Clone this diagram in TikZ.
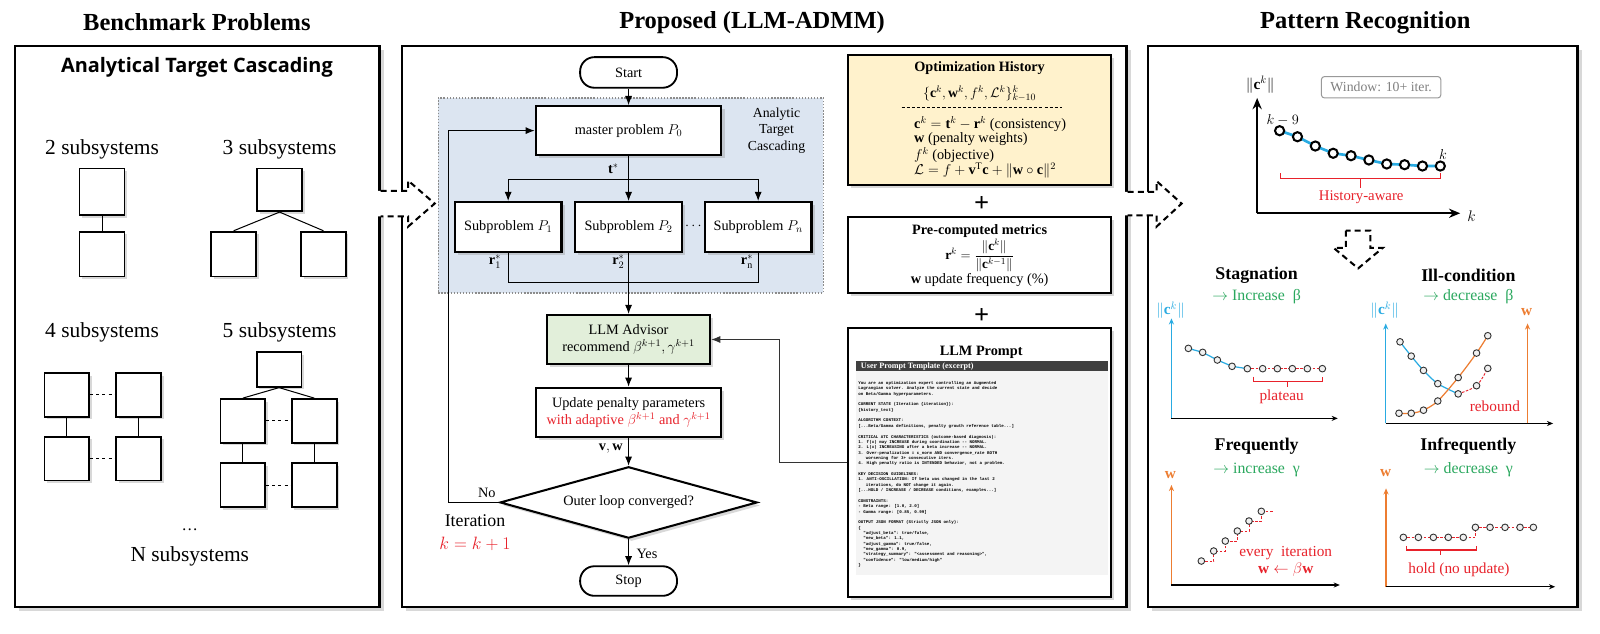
\RequirePackage{fix-cm}
\documentclass[tikz,border=0pt]{standalone}
\usepackage{fontspec}
\setmainfont{Liberation Serif}
\newfontfamily\atcfont{Open Sans}
\newfontfamily\pmono{Liberation Mono}
\usetikzlibrary{arrows.meta,shapes.geometric,shadows,calc}
\definecolor{cy}{HTML}{29ABE2}
\definecolor{orng}{HTML}{ED7D31}
\definecolor{rd}{HTML}{E8222B}
\definecolor{grn}{HTML}{2AA85E}
\definecolor{atcfill}{HTML}{DCE5F1}
\definecolor{atcline}{HTML}{8C8C8C}
\definecolor{advfill}{HTML}{E2EFDA}
\definecolor{histfill}{HTML}{FFF2CC}
\definecolor{hdr}{HTML}{404040}
\definecolor{txtbg}{HTML}{F4F4F4}
\definecolor{wgray}{HTML}{808080}
\newcommand\fsz[2]{\fontsize{#1}{#2}\selectfont}
\tikzset{
  shd/.style={drop shadow={shadow xshift=3pt,shadow yshift=-3pt,opacity=0.3}},
  panel/.style={draw,line width=2.2pt,fill=white,inner sep=0pt,
    drop shadow={shadow xshift=4pt,shadow yshift=-4pt,opacity=0.3}},
  sbox/.style={draw,line width=1.7pt,fill=white,minimum width=44pt,minimum height=43pt,
    drop shadow={shadow xshift=2.5pt,shadow yshift=-2.5pt,opacity=0.3}},
  fbox/.style={draw,line width=2pt,fill=white,align=center,font=\fsz{14}{17},shd},
  term/.style={draw,line width=1.8pt,fill=white,rounded corners=14pt,minimum width=95pt,
    minimum height=30pt,font=\fsz{14}{17}},
  arr/.style={-{Latex[length=9pt,width=7pt]},line width=1pt},
  ln/.style={line width=1pt},
  lbl/.style={font=\fsz{14}{17},inner sep=0pt},
  ttl/.style={font=\fsz{24}{28}\bfseries},
  subl/.style={font=\fsz{21}{24}},
  stit/.style={font=\fsz{17.5}{20}\bfseries},
  gtxt/.style={text=grn,font=\fsz{15.5}{18}},
  rtxt/.style={text=rd,font=\fsz{14.5}{17}},
  bpt/.style={circle,draw=black,line width=2pt,fill=white,inner sep=0pt,minimum size=9pt},
  spt/.style={circle,draw=black!80,line width=0.9pt,fill=black!6,inner sep=0pt,minimum size=6.5pt},
  rdash/.style={rd,line width=0.9pt,dash pattern=on 2.5pt off 1.5pt},
  bigax/.style={-{Stealth[length=11pt,width=9pt]},line width=2pt},
  smax/.style={-{Stealth[length=6pt,width=5pt]},line width=1.3pt},
  hollow/.style={line width=2pt,dash pattern=on 6pt off 4pt},
}
\begin{document}
\begin{tikzpicture}[x=1pt,y=-1pt]
\useasboundingbox (0,0) rectangle (1568,621);
\fill[white] (0,0) rectangle (1568,621);

% ---------------- panels
\node[panel,minimum width=357pt,minimum height=550pt] (panL) at (193.5,320) {};
\node[panel,minimum width=710pt,minimum height=550pt] (panM) at (749,320) {};
\node[panel,minimum width=421pt,minimum height=550pt] (panR) at (1335.5,320) {};
\node[ttl] (tL) at (193,22) {Benchmark Problems};
\node[ttl] (tM) at (737,22) {Proposed (LLM-ADMM)};
\node[ttl] (tR) at (1338,22) {Pattern Recognition};

% hollow dashed arrows between panels
\fill[white] (369,187) -- (400,187) -- (400,177) -- (426,199.5) -- (400,222) -- (400,212) -- (369,212) -- cycle;
\draw[hollow] (373,187) -- (400,187) -- (400,177) -- (426,199.5) -- (400,222) -- (400,212) -- (373,212);
\fill[white] (1101,188) -- (1133.5,188) -- (1133.5,177.5) -- (1158,199.5) -- (1133.5,222) -- (1133.5,211) -- (1101,211) -- cycle;
\draw[hollow] (1105,188) -- (1133.5,188) -- (1133.5,177.5) -- (1158,199.5) -- (1133.5,222) -- (1133.5,211) -- (1105,211);

% ---------------- left panel
\node[font=\atcfont\bfseries\fsz{19.5}{22}] (atc) at (193,66) {Analytical Target Cascading};
\node[subl] (l2) at (100,146) {2 subsystems};
\node[subl] (l3) at (274,146) {3 subsystems};
\node[subl] (l4) at (100,326) {4 subsystems};
\node[subl] (l5) at (274,326) {5 subsystems};
\node[font=\fsz{16}{18}] (ldots) at (186,519) {\ldots};
\node[subl] (lN) at (186,545) {N subsystems};

\node[sbox,minimum height=46pt] (a1) at (100,188) {};
\node[sbox,minimum height=44pt] (a2) at (100,249) {};
\draw[ln] (a1) -- (a2);

\node[sbox,minimum height=42pt] (b0) at (274,186) {};
\node[sbox,minimum height=44pt] (b1) at (229,249) {};
\node[sbox,minimum height=44pt] (b2) at (317,249) {};
\draw[ln] (b0.south) -- (b1.north);
\draw[ln] (b0.south) -- (b2.north);

\node[sbox] (c1) at (65.5,387) {};
\node[sbox] (c2) at (136,387) {};
\node[sbox] (c3) at (65.5,449.5) {};
\node[sbox] (c4) at (136,449.5) {};
\draw[ln] (c1) -- (c3);
\draw[ln] (c2) -- (c4);
\draw[ln,dashed] (c1) -- (c2);
\draw[ln,dashed] (c3) -- (c4);

\node[sbox,minimum height=34pt] (d0) at (273.5,362) {};
\node[sbox] (d1) at (238,412.5) {};
\node[sbox] (d2) at (308,412.5) {};
\node[sbox] (d3) at (238,475.5) {};
\node[sbox] (d4) at (308,475.5) {};
\draw[ln] (d0.south) -- (d1.north);
\draw[ln] (d0.south) -- (d2.north);
\draw[ln] (d1) -- (d3);
\draw[ln] (d2) -- (d4);
\draw[ln,dashed] (d1) -- (d2);
\draw[ln,dashed] (d3) -- (d4);

% ---------------- middle panel: flowchart
\node[fill=atcfill,draw=atcline,line width=1.5pt,dash pattern=on 1.5pt off 1.5pt,
  minimum width=377.3pt,minimum height=191pt] (atcreg) at (618.15,191.5) {};
\node[font=\fsz{13.5}{16},align=center] (atclbl) at (761,128) {Analytic\\Target\\Cascading};
\node[term] (start) at (616,71) {Start};
\node[fbox,minimum width=182pt,minimum height=48pt] (master) at (616,128) {master problem $P_0$};
\node[fbox,minimum width=104.5pt,minimum height=49pt] (p1) at (498,222.5) {Subproblem $P_1$};
\node[fbox,minimum width=104.5pt,minimum height=49pt] (p2) at (616,222.5) {Subproblem $P_2$};
\node[fbox,minimum width=104.5pt,minimum height=49pt] (pn) at (743,222.5) {Subproblem $P_n$};
\node[lbl] (dots) at (679.5,222) {$\cdots$};
\node[lbl] (tstar) at (601,165) {$\mathbf{t}^*$};
\node[lbl] (r1) at (485,256.5) {$\mathbf{r}_1^*$};
\node[lbl] (r2) at (606,256.5) {$\mathbf{r}_2^*$};
\node[lbl] (rn) at (732,256.5) {$\mathbf{r}_{\mathrm{n}}^*$};

\node[fbox,fill=advfill,minimum width=160pt,minimum height=48pt] (adv) at (616,332.7)
  {LLM Advisor\\recommend $\beta^{k+1},\gamma^{k+1}$};
\node[fbox,minimum width=181pt,minimum height=48pt] (upd) at (616,404)
  {Update penalty parameters\\\textcolor{rd}{with adaptive $\beta^{k+1}$ and $\gamma^{k+1}$}};
\node[lbl] (vw) at (598.5,440) {$\mathbf{v},\mathbf{w}$};
\node[draw,diamond,aspect=3.6,line width=2pt,fill=white,minimum width=252pt,minimum height=70pt,
  font=\fsz{14}{17},shd] (dia) at (616,492.4) {Outer loop converged?};
\node[term,minimum height=29pt] (stop) at (616,569.4) {Stop};
\node[lbl] (no) at (477,483) {No};
\node[lbl] (yes) at (634,543) {Yes};
\node[font=\fsz{17.5}{20}] (iter) at (465.5,510) {Iteration};
\node[text=rd,font=\fsz{17.5}{20}] (kupd) at (465.5,533) {$k=k+1$};

\coordinate (br) at (616,175.6);
\coordinate (cl) at (616,277);
\coordinate (lx) at (440,300);
\coordinate (fx) at (763.7,400);
\draw[arr] (start) -- (master);
\draw[arr] (master) -- (p2);
\draw[arr] (br) -| (p1.north);
\draw[arr] (br) -| (pn.north);
\draw[ln] (p1.south) |- (cl) -| (pn.south);
\draw[arr] (p2) -- (adv);
\draw[arr] (adv) -- (upd);
\draw[arr] (upd) -- (dia);
\draw[arr] (dia) -- (stop);
\draw[arr] (dia.west) -- (dia.west -| lx) -- (master.west -| lx) -- (master.west);

% ---------------- middle panel: right column
\node[draw,line width=2pt,fill=histfill,minimum width=257.6pt,minimum height=127.4pt,shd] (hist) at (960.2,117.6) {};
\node[font=\fsz{14}{17}\bfseries,inner sep=0pt] (histt) at (960,67) {Optimization History};
\node[font=\fsz{13.5}{16},inner sep=0pt] (hists) at (960,91.5) {$\{\mathbf{c}^k,\mathbf{w}^k,f^k,\mathcal{L}^k\}_{k-10}^{k}$};
\coordinate (hd1) at (883.6,105);
\coordinate (hd2) at (1040.4,105);
\draw[line width=0.8pt,dash pattern=on 3pt off 2pt] (hd1) -- (hd2);
\node[lbl,anchor=west] (hl1) at (895.7,121.5) {$\mathbf{c}^k=\mathbf{t}^k-\mathbf{r}^k$ (consistency)};
\node[lbl,anchor=west] (hl2) at (895.7,136.5) {$\mathbf{w}$ (penalty weights)};
\node[lbl,anchor=west] (hl3) at (895.7,151.9) {$f^k$ (objective)};
\node[lbl,anchor=west] (hl4) at (895.7,167.3) {$\mathcal{L}=f+\mathbf{v}^{\mathrm{T}}\mathbf{c}+\|\mathbf{w}\circ\mathbf{c}\|^2$};

\node[font=\fsz{26}{26}\bfseries] (plus1) at (962,200) {+};
\node[draw,line width=2pt,fill=white,minimum width=257.6pt,minimum height=75.2pt,shd] (met) at (960.2,249.9) {};
\node[font=\fsz{14}{17}\bfseries,inner sep=0pt] (mett) at (960,226.5) {Pre-computed metrics};
\node[font=\fsz{13}{15},inner sep=0pt] (metf) at (960,250.5) {$\mathbf{r}^k=\displaystyle\frac{\|\mathbf{c}^k\|}{\|\mathbf{c}^{k-1}\|}$};
\node[lbl] (metw) at (960,274) {$\mathbf{w}$ update frequency (\%)};
\node[font=\fsz{26}{26}\bfseries] (plus2) at (962,310) {+};

\node[draw,line width=2pt,fill=white,minimum width=257.6pt,minimum height=264pt,shd] (prompt) at (960.2,453) {};
\node[font=\fsz{14}{17}\bfseries,inner sep=0pt] (promptt) at (961.6,345) {LLM Prompt};
\node[fill=txtbg,minimum width=247pt,minimum height=200pt,anchor=north west,inner sep=0pt] (ptxt) at (839,363.6) {};
\node[fill=hdr,minimum width=247pt,minimum height=9.6pt,anchor=north west,inner sep=0pt] (phdr) at (839,354) {};
\node[anchor=west,text=white,font=\fsz{8}{9}\bfseries,inner sep=0pt] (phdrt) at (843.5,358.8) {User Prompt Template (excerpt)};
\node[anchor=north west,align=left,inner sep=0pt,font=\pmono\bfseries\fsz{4.1}{5.25}] (pbody) at (841,373.6) {%
You are an optimization expert controlling an Augmented\\
Lagrangian solver. Analyze the current state and decide\\
on Beta/Gamma hyperparameters.\\[5.25pt]
CURRENT STATE (Iteration \{iteration\}):\\
\{history\_text\}\\[5.25pt]
ALGORITHM CONTEXT:\\
{[}...Beta/Gamma definitions, penalty growth reference table...]\\[5.25pt]
CRITICAL ATC CHARACTERISTICS (outcome-based diagnosis):\\
1. f(x) may INCREASE during coordination -{}- NORMAL.\\
2. L(x) INCREASING after a beta increase -{}- NORMAL.\\
3. Over-penalization = c\_norm AND convergence\_rate BOTH\\
\phantom{xxx}worsening for 3+ consecutive iters.\\
4. High penalty ratio is INTENDED behavior, not a problem.\\[5.25pt]
KEY DECISION GUIDELINES:\\
1. ANTI-OSCILLATION: If beta was changed in the last 2\\
\phantom{xxx}iterations, do NOT change it again.\\
{[}...HOLD / INCREASE / DECREASE conditions, examples...]\\[5.25pt]
CONSTRAINTS:\\
- Beta range: {[}1.0, 2.0]\\
- Gamma range: {[}0.85, 0.99]\\[5.25pt]
OUTPUT JSON FORMAT (Strictly JSON only):\\
\{\\
\phantom{xx}"adjust\_beta": true/false,\\
\phantom{xx}"new\_beta": 1.1,\\
\phantom{xx}"adjust\_gamma": true/false,\\
\phantom{xx}"new\_gamma": 0.9,\\
\phantom{xx}"strategy\_summary": "<assessment and reasoning>",\\
\phantom{xx}"confidence": "low/medium/high"\\
\}};
\draw[arr,black!80] (prompt.west) -- (prompt.west -| fx) |- (adv.east);

% ---------------- right panel: top chart
\coordinate (tco) at (1232,209);
\coordinate (tcy) at (1232,96);
\coordinate (tcx) at (1431,209);
\draw[bigax] (tco) -- (tcy);
\draw[bigax] (tco) -- (tcx);
\node[font=\fsz{15}{18}] (tcn) at (1235,83) {$\|\mathbf{c}^k\|$};
\node[draw=wgray!80,line width=1pt,rounded corners=3pt,text=wgray,font=\fsz{13.5}{16},
  minimum width=117pt,minimum height=21pt] (win) at (1353.5,85.5) {Window: 10+ iter.};
\foreach \i/\xx/\yy in {0/1254/128.1,1/1271.5/134,2/1289/143.1,3/1306.5/150.2,4/1324/152.6,
  5/1341.5/156.8,6/1359/160.7,7/1376.5/161.4,8/1394/162.7,9/1411.5/162.7}
  \coordinate (h\i) at (\xx,\yy);
\draw[cy,line width=2.6pt] (h0) -- (h1) -- (h2) -- (h3) -- (h4) -- (h5) -- (h6) -- (h7) -- (h8) -- (h9);
\foreach \i in {0,...,9} \node[bpt] (hp\i) at (h\i) {};
\node[lbl] (km9) at (1257,117.6) {$k-9$};
\node[lbl] (kk) at (1414,151) {$k$};
\node[font=\fsz{15}{18}] (kx) at (1442,212) {$k$};
\draw[rd,line width=1.3pt] (1255,169.7) -- (1255,174.6) -- (1412,174.6) -- (1412,169.7);
\draw[rd,line width=1.3pt] (1333.5,174.6) -- (1333.5,184.4);
\node[rtxt] (hawe) at (1334,193) {History-aware};

% down hollow arrow
\fill[white] (1319,226) -- (1319,243) -- (1307,243) -- (1331,263) -- (1355,243) -- (1343,243) -- (1343,226) -- cycle;
\draw[hollow] (1319,226) -- (1319,243) -- (1307,243) -- (1331,263) -- (1355,243) -- (1343,243) -- (1343,226) -- cycle;

% ---------------- Stagnation
\node[stit] (st1) at (1231.5,269.5) {Stagnation};
\node[gtxt] (st2) at (1231.5,290.7) {$\rightarrow$ Increase\ \ β};
\node[text=cy,font=\fsz{15}{18}] (st3) at (1147,304) {$\|\mathbf{c}^k\|$};
\draw[smax,cy] (1148,410) -- (1148,312);
\draw[smax] (1148,410) -- (1311,410);
\foreach \i/\xx/\yy in {0/1164.6/341.4,1/1178.6/345.3,2/1193/352.8,3/1207.4/359,4/1222.4/361.3,
  5/1237.4/361.3,6/1251.8/361.3,7/1266.5/361.3,8/1281.2/361.3,9/1295.9/361.3}
  \coordinate (s\i) at (\xx,\yy);
\draw[cy,line width=1.2pt] (s0) -- (s1) -- (s2) -- (s3) -- (s4);
\draw[rdash] (s4) -- (s9);
\foreach \i in {0,...,9} \node[spt] (sp\i) at (s\i) {};
\draw[rd,line width=1pt] (1228,369.1) -- (1228,374) -- (1296,374) -- (1296,369.1);
\draw[rd,line width=1pt] (1262,374) -- (1262,379);
\node[rtxt,font=\fsz{15}{18}] (plat) at (1256,388.7) {plateau};

% ---------------- Ill-condition
\node[stit] (ic1) at (1439,269.5) {Ill-condition};
\node[gtxt] (ic2) at (1439,290.7) {$\rightarrow$ decrease\ \ β};
\node[text=cy,font=\fsz{15}{18}] (ic3) at (1357,304) {$\|\mathbf{c}^k\|$};
\node[text=orng,font=\fsz{15}{18}] (ic4) at (1496,306) {$\mathbf{w}$};
\draw[smax,cy] (1358,415) -- (1358,317);
\draw[smax] (1358,415) -- (1522,415);
\draw[smax,orng] (1497,415) -- (1497,317);
\draw[cy,line width=1.2pt] plot[smooth] coordinates {(1372,335) (1383,349) (1395,363) (1409,376) (1429,386)};
\draw[rdash] plot[smooth] coordinates {(1429,386) (1447,378) (1458,361)};
\draw[orng,line width=1.2pt] plot[smooth] coordinates {(1371,405) (1383,405) (1395,402) (1409,393) (1429,370) (1447,346) (1458,329)};
\foreach \i/\xx/\yy in {0/1372/335,1/1383/349,2/1395/363,3/1409/376,4/1429/386,5/1447/378,6/1458/361}
  \node[spt] (ib\i) at (\xx,\yy) {};
\foreach \i/\xx/\yy in {0/1371/405,1/1383/405,2/1395/402,3/1409/393,4/1429/370,5/1447/346,6/1458/329}
  \node[spt] (io\i) at (\xx,\yy) {};
\node[rtxt,font=\fsz{15}{18}] (reb) at (1465,398) {rebound};

% ---------------- Frequently
\node[stit] (fq1) at (1231.5,437.7) {Frequently};
\node[gtxt] (fq2) at (1231.5,460.6) {$\rightarrow$ increase\ \ γ};
\node[text=orng,font=\fsz{15}{18}] (fq3) at (1147,465.5) {$\mathbf{w}$};
\draw[smax,orng] (1148,573.3) -- (1148,475.3);
\draw[smax] (1148,573.3) -- (1313,573.3);
\foreach \i/\xx/\yy in {0/1177.3/549.8,1/1189.4/540,2/1200.8/530.2,3/1212.6/520.4,4/1224/510.6,5/1236.1/501.1}
  \coordinate (f\i) at (\xx,\yy);
\coordinate (fend) at (1248,501.1);
\draw[rdash] (f0) -| (f1) -| (f2) -| (f3) -| (f4) -| (f5) -- (fend);
\foreach \i in {0,...,5} \node[spt] (fp\i) at (f\i) {};
\node[rtxt,font=\fsz{15}{18}] (evi) at (1260,542.3) {every\ \ iteration};
\node[rtxt,font=\fsz{15}{18}] (wbw) at (1260,558) {$\mathbf{w}\leftarrow\beta\mathbf{w}$};

% ---------------- Infrequently
\node[stit] (if1) at (1439,437.7) {Infrequently};
\node[gtxt] (if2) at (1439,460.6) {$\rightarrow$ decrease\ \ γ};
\node[text=orng,font=\fsz{15}{18}] (if3) at (1358,464) {$\mathbf{w}$};
\draw[smax,orng] (1358.3,575) -- (1358.3,478.6);
\draw[smax] (1358.3,575) -- (1524,575);
\foreach \i/\xx/\yy in {0/1375.3/526.6,1/1390/526.6,2/1404.7/526.6,3/1419.3/526.6,4/1434/526.6,
  5/1445.9/516.8,6/1460.2/516.8,7/1474.9/516.8,8/1489.6/516.8,9/1502.7/516.8}
  \coordinate (q\i) at (\xx,\yy);
\draw[rdash] (q0) -- (q4) -| (q5) -- (q9);
\foreach \i in {0,...,9} \node[spt] (qp\i) at (q\i) {};
\draw[rd,line width=1pt] (1377.9,535) -- (1377.9,539) -- (1446.5,539) -- (1446.5,535);
\draw[rd,line width=1pt] (1411.9,539) -- (1411.9,543.9);
\node[rtxt,font=\fsz{15}{18}] (hold) at (1429.8,558.6) {hold (no update)};
\end{tikzpicture}
\end{document}
